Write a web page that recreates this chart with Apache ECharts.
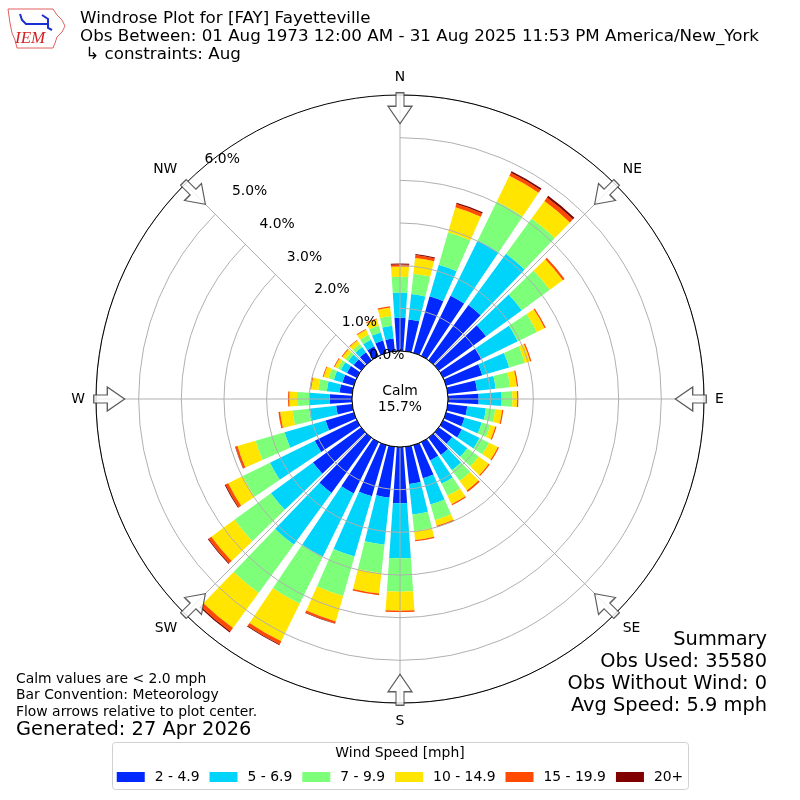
<!DOCTYPE html>
<html>
<head>
<meta charset="utf-8">
<title>Windrose FAY</title>
<script src="https://cdn.jsdelivr.net/npm/echarts@6.0.0/dist/echarts.min.js"></script>
<style>
  html, body { margin: 0; padding: 0; background: #fff; }
  #chart { width: 800px; height: 800px; }
</style>
</head>
<body>
<div id="chart"></div>
<script>
// wind directions (degrees, meteorological) and frequency (%) per speed bin
const directions = [0, 10, 20, 30, 40, 50, 60, 70, 80, 90, 100, 110, 120, 130, 140, 150, 160, 170,
  180, 190, 200, 210, 220, 230, 240, 250, 260, 270, 280, 290, 300, 310, 320, 330, 340, 350];

const speed2to5 = [0.78, 0.75, 1.38, 1.57, 1.60, 1.37, 1.00, 0.88, 0.69, 0.72, 0.46, 0.45, 0.49, 0.39, 0.50, 0.48, 0.81, 0.88,
  1.32, 1.20, 1.25, 1.34, 1.60, 1.40, 1.10, 0.69, 0.38, 0.52, 0.30, 0.28, 0.26, 0.22, 0.23, 0.25, 0.30, 0.30];
const speed5to7 = [0.59, 0.60, 0.77, 1.45, 1.49, 1.04, 0.95, 0.66, 0.44, 0.54, 0.44, 0.42, 0.46, 0.44, 0.44, 0.61, 0.64, 0.72,
  1.29, 1.11, 1.47, 1.65, 1.50, 1.22, 1.17, 1.00, 0.64, 0.48, 0.30, 0.21, 0.16, 0.16, 0.15, 0.17, 0.20, 0.30];
const speed7to10 = [0.37, 0.48, 0.79, 1.01, 1.02, 0.81, 0.50, 0.38, 0.34, 0.25, 0.22, 0.21, 0.25, 0.33, 0.31, 0.31, 0.38, 0.39,
  0.78, 0.67, 0.96, 1.23, 1.40, 1.06, 0.71, 0.71, 0.39, 0.29, 0.20, 0.13, 0.08, 0.08, 0.09, 0.13, 0.16, 0.23];
const speed10to15 = [0.24, 0.37, 0.61, 0.67, 0.51, 0.38, 0.20, 0.13, 0.16, 0.11, 0.16, 0.12, 0.23, 0.29, 0.28, 0.22, 0.14, 0.21,
  0.45, 0.48, 0.62, 0.98, 1.02, 0.67, 0.38, 0.44, 0.29, 0.18, 0.17, 0.12, 0.08, 0.09, 0.10, 0.13, 0.16, 0.20];
const speed15to20 = [0.05, 0.07, 0.08, 0.08, 0.10, 0.05, 0.03, 0.03, 0.03, 0.03, 0.03, 0.03, 0.03, 0.03, 0.04, 0.03, 0.03, 0.03,
  0.03, 0.04, 0.05, 0.08, 0.10, 0.08, 0.07, 0.05, 0.04, 0.03, 0.02, 0.02, 0.02, 0.02, 0.02, 0.02, 0.02, 0.03];
const speed20plus = [0.02, 0.02, 0.03, 0.04, 0.05, 0, 0, 0, 0, 0, 0, 0, 0, 0, 0, 0, 0, 0,
  0, 0, 0.01, 0.02, 0.03, 0.02, 0.02, 0.01, 0, 0, 0, 0, 0, 0, 0, 0, 0, 0];

const binNames = ['2 - 4.9', '5 - 6.9', '7 - 9.9', '10 - 14.9', '15 - 19.9', '20+'];
const binColors = ['#0028ff', '#00d4fa', '#7dff7a', '#ffe500', '#ff4a00', '#800000'];

const compassNames = ['N', 'NE', 'E', 'SE', 'S', 'SW', 'W', 'NW'];
const compassAngles = [0, 45, 90, 135, 180, 225, 270, 315];
const ringTicks = [0, 1, 2, 3, 4, 5, 6];

const calmPct = 15.7;
const summaryLines = ['Summary', 'Obs Used: 35580', 'Obs Without Wind: 0', 'Avg Speed: 5.9 mph'];
const noteLines = ['Calm values are < 2.0 mph', 'Bar Convention: Meteorology', 'Flow arrows relative to plot center.'];

const FONT = 'DejaVu Sans';
const SMALL = 13.9;
const CX = 400;
const CY = 399;
const R_IN = 48;
const R_OUT = 304;

function makeSeries() {
  const values = [speed2to5, speed5to7, speed7to10, speed10to15, speed15to20, speed20plus];
  const list = values.map((data, i) => ({
    name: binNames[i],
    type: 'bar',
    coordinateSystem: 'polar',
    polarIndex: 0,
    stack: 'speed',
    barCategoryGap: '22%',
    itemStyle: { color: binColors[i] },
    silent: true,
    data
  }));
  // inward flow arrows at the compass points
  list.push({
    type: 'scatter',
    coordinateSystem: 'polar',
    polarIndex: 1,
    z: 10,
    silent: true,
    symbol: 'path://M8,0 L16,0 L16,14 L24,14 L12,32 L0,14 L8,14 Z',
    symbolSize: [24, 31],
    symbolRotate: (val, params) => -compassAngles[params.dataIndex],
    itemStyle: { color: '#fff', borderColor: '#333', borderWidth: 1.2 },
    data: compassNames.map(n => [5.69, n])
  });
  return list;
}

function makeGraphic() {
  const g = [];
  // IEM logo
  g.push({
    type: 'polygon',
    shape: { points: [[8, 9], [53, 9], [57, 15], [62, 20], [65, 26], [62, 32], [57, 37], [55, 43], [53, 48], [17, 48], [15, 40], [12, 33], [10, 23]] },
    style: { fill: '#fff', stroke: '#e06060', lineWidth: 1 }
  });
  g.push({ type: 'polyline', shape: { points: [[20, 14], [22, 20], [26, 24], [48, 24]] }, style: { stroke: '#1a2fd0', lineWidth: 2, fill: null } });
  g.push({ type: 'polyline', shape: { points: [[42, 15], [48, 19], [48, 28], [52, 30]] }, style: { stroke: '#1a2fd0', lineWidth: 2, fill: null } });
  g.push({ type: 'text', style: { text: 'IEM', x: 15, y: 30, fontFamily: 'Liberation Serif', fontStyle: 'italic', fontSize: 17, fill: '#d42020' } });

  // header
  g.push({
    type: 'text',
    style: {
      text: 'Windrose Plot for [FAY] Fayetteville\nObs Between: 01 Aug 1973 12:00 AM - 31 Aug 2025 11:53 PM America/New_York\n ↳ constraints: Aug',
      x: 80, y: 10, fontFamily: FONT, fontSize: 16.7, lineHeight: 18, fill: '#000'
    }
  });

  // calm circle
  g.push({
    type: 'circle', z: 50,
    shape: { cx: CX, cy: CY, r: R_IN },
    style: { fill: '#fff', stroke: '#000', lineWidth: 1 }
  });
  g.push({
    type: 'text', z: 51,
    style: {
      text: 'Calm\n' + calmPct.toFixed(1) + '%', x: CX, y: CY,
      align: 'center', verticalAlign: 'middle', fontFamily: FONT, fontSize: SMALL, lineHeight: 16, fill: '#000'
    }
  });

  // notes lower left
  g.push({
    type: 'text',
    style: { text: noteLines.join('\n'), x: 16, y: 671, fontFamily: FONT, fontSize: SMALL, lineHeight: 16.5, fill: '#000' }
  });
  g.push({
    type: 'text',
    style: { text: 'Generated: 27 Apr 2026', x: 16, y: 719, fontFamily: FONT, fontSize: 19.4, lineHeight: 22, fill: '#000' }
  });

  // summary lower right
  g.push({
    type: 'text',
    style: { text: summaryLines.join('\n'), x: 767, y: 629, align: 'right', fontFamily: FONT, fontSize: 19.4, lineHeight: 22, fill: '#000' }
  });

  // legend frame and title
  g.push({
    type: 'rect',
    shape: { x: 112.5, y: 742.5, width: 576, height: 47, r: 3 },
    style: { fill: '#fff', stroke: '#d0d0d0', lineWidth: 1 }
  });
  g.push({
    type: 'text',
    style: { text: 'Wind Speed [mph]', x: 400, y: 753, align: 'center', verticalAlign: 'middle', fontFamily: FONT, fontSize: SMALL, fill: '#000' }
  });
  return g;
}

const chart = echarts.init(document.getElementById('chart'));
const polarBox = { center: [CX, CY], radius: [R_IN, R_OUT] };
const gridLine = { show: true, lineStyle: { color: '#b0b0b0', width: 1 } };

chart.setOption({
  animation: false,
  textStyle: { fontFamily: FONT },
  polar: [polarBox, polarBox, polarBox],
  angleAxis: [
    {
      polarIndex: 0, type: 'category', data: directions, startAngle: 95, clockwise: true,
      axisLine: { show: false }, axisTick: { show: false }, axisLabel: { show: false }, splitLine: { show: false }
    },
    {
      polarIndex: 1, type: 'category', data: compassNames, boundaryGap: false, startAngle: 90, clockwise: true, z: 6,
      axisLine: { show: true, lineStyle: { color: '#000', width: 1 } },
      axisTick: { show: false },
      axisLabel: { show: true, margin: 11, fontSize: SMALL, color: '#000', fontFamily: FONT },
      splitLine: gridLine
    },
    {
      polarIndex: 2, type: 'value', min: 0, max: 360, startAngle: 130,
      axisLine: { show: false }, axisTick: { show: false }, axisLabel: { show: false }, splitLine: { show: false }
    }
  ],
  radiusAxis: [
    { polarIndex: 0, type: 'value', min: 0, max: 6, show: false },
    {
      polarIndex: 1, type: 'value', min: 0, max: 6, interval: 1, z: 5,
      axisLine: { show: false }, axisTick: { show: false }, axisLabel: { show: false }, splitLine: gridLine
    },
    {
      polarIndex: 2, type: 'value', min: ringTicks[0], max: ringTicks[ringTicks.length - 1], interval: 1, z: 60,
      axisLine: { show: false }, axisTick: { show: false }, splitLine: { show: false },
      axisLabel: {
        show: true, showMinLabel: true, margin: 0, align: 'left', verticalAlign: 'bottom',
        fontSize: SMALL, color: '#000', fontFamily: FONT, formatter: v => v.toFixed(1) + '%'
      }
    }
  ],
  legend: {
    data: binNames,
    left: 'center',
    top: 765,
    icon: 'rect',
    itemWidth: 28,
    itemHeight: 10,
    itemGap: 10,
    selectedMode: false,
    textStyle: { fontSize: SMALL, color: '#000', fontFamily: FONT, padding: [0, 0, 0, 5] }
  },
  series: makeSeries(),
  graphic: makeGraphic()
});
</script>
</body>
</html>
